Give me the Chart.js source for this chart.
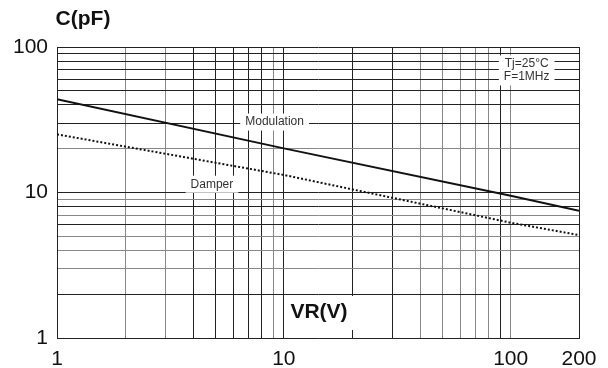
<!DOCTYPE html>
<html>
<head>
<meta charset="utf-8">
<script src="https://cdn.jsdelivr.net/npm/chart.js@4.4.1/dist/chart.umd.min.js"></script>
<style>
  body { margin: 0; background: #fff; }
  #wrap { width: 608px; height: 368px; position: relative; }
</style>
</head>
<body>
<div id="wrap"><canvas id="chartCap"></canvas></div>
<script>
// datos
const vrPoints = [1, 10, 100, 200];
const modulation = [43.7, 20.1, 9.5, 7.5];
const damper = [25.1, 13.2, 6.2, 5.1];

// lineas de la rejilla
const vrTicks = [1, 2, 3, 4, 5, 6, 7, 8, 9, 10, 20, 30, 40, 50, 60, 70, 80, 90, 100, 200];
const vrLabels = [1, 10, 100, 200];
const cTicks = [1, 2, 3, 4, 5, 6, 7, 8, 9, 10, 20, 30, 40, 50, 60, 70, 80, 90, 100];
const cLabels = [1, 10, 100];

// textos dentro del area
const notes = [
    { text: ["Modulation"], x: 9.1, y: 30.5 },
    { text: ["Damper"], x: 4.82, y: 11.4 },
    { text: ["Tj=25\u00b0C", "F=1MHz"], x: 117.6, y: 69 }
];

const darkX = [4, 5, 6, 7, 8, 10, 20, 30, 90, 200];
const darkY = [2, 6, 8, 10, 30, 40, 50, 60, 70, 80, 90, 100];
const FONT = "'Liberation Sans', Arial, sans-serif";

function gridColor(list) {
    return ctx => (ctx.tick && list.includes(ctx.tick.value)) ? "#222" : "#888";
}

const notesPlugin = {
    id: "notes",
    afterDraw(chart) {
        const { ctx, scales } = chart;
        const xs = scales.x, ys = scales.y;
        ctx.save();
        ctx.font = "12px " + FONT;
        ctx.textAlign = "center";
        ctx.textBaseline = "middle";
        notes.forEach(n => {
            const px = xs.getPixelForValue(n.x);
            const py = ys.getPixelForValue(n.y);
            const w = Math.max(...n.text.map(t => ctx.measureText(t).width)) + 10;
            const h = n.text.length * 13 + 4;
            ctx.fillStyle = "#fff";
            ctx.fillRect(px - w / 2, py - h / 2, w, h);
            ctx.fillStyle = "#333";
            n.text.forEach((t, i) => {
                ctx.fillText(t, px, py - (n.text.length - 1) * 6.5 + i * 13);
            });
        });

        // titulos de los ejes
        ctx.font = "bold 21px " + FONT;
        ctx.fillStyle = "#111";
        ctx.fillText("C(pF)", 83, 19);
        const vx = 319, vy = 312;
        const vw = ctx.measureText("VR(V)").width + 12;
        ctx.fillStyle = "#fff";
        ctx.fillRect(vx - vw / 2, vy - 16, vw, 34);
        ctx.fillStyle = "#111";
        ctx.fillText("VR(V)", vx, vy);
        ctx.restore();
    }
};

new Chart(document.getElementById("chartCap"), {
    type: "scatter",
    data: {
        datasets: [
            {
                label: "Modulation",
                data: vrPoints.map((v, i) => ({ x: v, y: modulation[i] })),
                showLine: true,
                borderColor: "#111",
                borderWidth: 2,
                pointRadius: 0
            },
            {
                label: "Damper",
                data: vrPoints.map((v, i) => ({ x: v, y: damper[i] })),
                showLine: true,
                borderColor: "#111",
                borderWidth: 2,
                borderDash: [2, 2],
                pointRadius: 0
            }
        ]
    },
    options: {
        responsive: true,
        maintainAspectRatio: false,
        animation: false,
        layout: { padding: { top: 47, right: 29, left: 0, bottom: 0 } },
        plugins: {
            legend: { display: false },
            tooltip: { enabled: false }
        },
        scales: {
            x: {
                type: "logarithmic",
                min: 1,
                max: 200,
                afterBuildTicks: s => { s.ticks = vrTicks.map(v => ({ value: v })); },
                afterFit: s => { s.height = 30; },
                ticks: {
                    autoSkip: false,
                    maxRotation: 0,
                    padding: 9,
                    color: "#111",
                    font: { family: FONT, size: 21 },
                    callback: v => vrLabels.includes(v) ? String(v) : ""
                },
                grid: { color: gridColor(darkX), lineWidth: 1, drawTicks: false },
                border: { display: true, color: "#222", width: 1 }
            },
            y: {
                type: "logarithmic",
                min: 1,
                max: 100,
                afterBuildTicks: s => { s.ticks = cTicks.map(v => ({ value: v })); },
                afterFit: s => { s.width = 57; },
                ticks: {
                    autoSkip: false,
                    padding: 9,
                    color: "#111",
                    font: { family: FONT, size: 21 },
                    callback: v => cLabels.includes(v) ? String(v) : ""
                },
                grid: { color: gridColor(darkY), lineWidth: 1, drawTicks: false },
                border: { display: true, color: "#222", width: 1 }
            }
        }
    },
    plugins: [notesPlugin]
});
</script>
</body>
</html>
